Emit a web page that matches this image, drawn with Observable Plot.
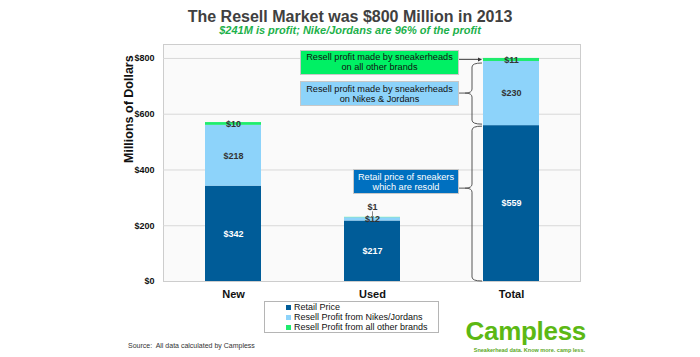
<!DOCTYPE html>
<html><head><meta charset="utf-8">
<script src="https://cdn.jsdelivr.net/npm/d3@7"></script>
<script src="https://cdn.jsdelivr.net/npm/@observablehq/plot@0.6"></script>
<style>
body{margin:0;background:#fff;}
#wrap{position:relative;width:700px;height:357px;overflow:hidden;font-family:"Liberation Sans",Arial,sans-serif;background:#fff;}
#wrap svg{position:absolute;left:0;top:0;}
.abs{position:absolute;white-space:nowrap;}
.title{left:0;width:700px;text-align:center;top:8.5px;font-size:16px;line-height:16px;font-weight:bold;color:#404040;}
.subtitle{left:0;width:700px;text-align:center;top:25px;font-size:11px;line-height:11px;font-weight:bold;font-style:italic;color:#1db14b;}
.note{box-sizing:border-box;border:1px solid #c8c8c8;font-size:9.2px;line-height:10px;text-align:center;display:flex;align-items:center;justify-content:center;white-space:normal;}
.legend{left:264px;top:301px;width:175px;height:32px;box-sizing:border-box;border:1px solid #b5b5b5;background:#fff;padding:0 0 0 21px;}
.legend .row{height:10px;font-size:9px;line-height:10px;color:#111;display:flex;align-items:center;}
.legend .sw{width:5px;height:5px;margin-right:3px;display:inline-block;}
.source{left:128px;top:342px;font-size:7px;line-height:8px;color:#333;}
.logo{right:114px;top:318px;font-size:26px;line-height:26px;font-weight:bold;color:#5cb814;letter-spacing:-0.3px;}
.tag{right:115px;top:347px;font-size:5.5px;line-height:6px;font-weight:bold;color:#5ca81e;}
</style></head><body><div id="wrap"></div><script>
const categories = ["New", "Used", "Total"];
const seriesNames = ["Retail Price", "Resell Profit from Nikes/Jordans", "Resell Profit from all other brands"];
const retailPrice = [342, 217, 559];
const nikeJordanProfit = [218, 12, 230];
const otherBrandProfit = [10, 1, 11];
const seriesColors = ["#005c98", "#8dd3fa", "#1fec6d"];
const yTicks = [0, 200, 400, 600, 800];
const noteTexts = [
  "Resell profit made by sneakerheads on all other brands",
  "Resell profit made by sneakerheads on Nikes & Jordans",
  "Retail price of sneakers which are resold"
];
const noteColors = ["#00f064", "#8dd3fa", "#0070c0"];

const seriesValues = [retailPrice, nikeJordanProfit, otherBrandProfit];
const rows = [];
categories.forEach((cat, i) => {
  let cum = 0;
  seriesNames.forEach((s, j) => {
    const v = seriesValues[j][i];
    rows.push({cat, series: s, value: v, y1: cum, y2: cum + v});
    cum += v;
  });
});
const mid = d => (d.y1 + d.y2) / 2;
const fmt = d => "$" + d.value;
const small = rows.filter(d => d.value < 5);

const plot = Plot.plot({
  width: 700, height: 357,
  marginTop: 44, marginRight: 120, marginBottom: 76, marginLeft: 163,
  style: {fontFamily: '"Liberation Sans", Arial, sans-serif', fontSize: "9px", background: "transparent", overflow: "visible"},
  x: {domain: categories, paddingInner: 0.6, paddingOuter: 0.3, label: null},
  y: {domain: [0, 850], label: null},
  color: {domain: seriesNames, range: seriesColors},
  marks: [
    Plot.frame({fill: "#fafafa", stroke: "#cdcdcd"}),
    Plot.gridY(yTicks.slice(1), {stroke: "#d8d8d8", strokeOpacity: 1}),
    Plot.axisY(yTicks, {tickSize: 0, tickPadding: 9, tickFormat: d => "$" + d, fontWeight: "bold", fontSize: 9, fill: "#111"}),
    Plot.axisX({tickSize: 0, tickPadding: 9, fontWeight: "bold", fontSize: 11, fill: "#111"}),
    Plot.barY(rows, {x: "cat", y1: "y1", y2: "y2", fill: "series"}),
    Plot.text(rows.filter(d => d.series === seriesNames[0]), {x: "cat", y: mid, text: fmt, fill: "white", fontWeight: "bold", fontSize: 9}),
    Plot.text(rows.filter(d => d.series !== seriesNames[0] && d.value >= 5), {x: "cat", y: mid, text: fmt, fill: "#333", fontWeight: "bold", fontSize: 9}),
    Plot.ruleX(small, {x: "cat", y1: "y2", y2: d => d.y2 + 20, stroke: "#888"}),
    Plot.text(small, {x: "cat", y: "y2", dy: -10, text: fmt, fill: "#333", fontWeight: "bold", fontSize: 9}),
    Plot.text(["Millions of Dollars"], {frameAnchor: "left", dx: -35, rotate: -90, text: d => d, fontWeight: "bold", fontSize: 12.5, fill: "#111"})
  ]
});

const wrap = document.getElementById("wrap");
wrap.appendChild(plot);

const add = (cls, html, style) => {
  const el = document.createElement("div");
  el.className = "abs " + cls;
  el.innerHTML = html;
  if (style) Object.assign(el.style, style);
  wrap.appendChild(el);
  return el;
};
add("title", "The Resell Market was $800 Million in 2013");
add("subtitle", "$241M is profit; Nike/Jordans are 96% of the profit");

// annotations, positioned from the scales
const xs = plot.scale("x"), ys = plot.scale("y");
const barLeft = xs.apply("Total");
const boxRight = barLeft - 24;
const totals = rows.filter(d => d.cat === "Total");
const yRetailTop = ys.apply(totals[0].y2);
const yNikeTop = ys.apply(totals[1].y2);
const yAll = ys.apply(totals[2].y2);
const yGreenMid = ys.apply(mid(totals[2]));
const yZero = ys.apply(0);

const boxes = [
  {top: yAll - 8, w: 159, h: 25, tip: yGreenMid, color: "#111"},
  {top: yNikeTop + 20, w: 159, h: 25, tip: (yNikeTop + yRetailTop) / 2, color: "#111"},
  {top: yRetailTop + 44, w: 106, h: 25, tip: yRetailTop + 63, color: "#fff"}
];
boxes.forEach((b, i) => {
  add("note", noteTexts[i], {left: (boxRight - b.w) + "px", top: b.top + "px", width: b.w + "px", height: b.h + "px", background: noteColors[i], color: b.color});
});

const g = d3.select(plot).append("g").attr("fill", "none").attr("stroke", "#555").attr("stroke-width", 1);
g.append("line").attr("x1", boxRight).attr("x2", barLeft - 4).attr("y1", boxes[0].tip).attr("y2", boxes[0].tip);
g.append("path").attr("d", `M${barLeft - 1},${boxes[0].tip} L${barLeft - 5},${boxes[0].tip - 2} L${barLeft - 5},${boxes[0].tip + 2} Z`).attr("fill", "#333").attr("stroke", "none");
function brace(y1, y2, ym) {
  const sx = barLeft - 11, ex = barLeft - 1, tx = barLeft - 18, r = 4;
  return `M${ex},${y1} Q${sx},${y1} ${sx},${y1 + r} L${sx},${ym - r} Q${sx},${ym} ${tx},${ym} Q${sx},${ym} ${sx},${ym + r} L${sx},${y2 - r} Q${sx},${y2} ${ex},${y2}`;
}
g.append("path").attr("d", brace(yNikeTop + 2, yRetailTop - 1, boxes[1].tip));
g.append("path").attr("d", brace(yRetailTop + 1, yZero, boxes[2].tip));
g.append("line").attr("x1", boxRight).attr("x2", barLeft - 18).attr("y1", boxes[1].tip).attr("y2", boxes[1].tip);
g.append("line").attr("x1", boxRight).attr("x2", barLeft - 18).attr("y1", boxes[2].tip).attr("y2", boxes[2].tip);

// legend
const leg = add("legend", "");
seriesNames.forEach((s, i) => {
  const r = document.createElement("div");
  r.className = "row";
  r.innerHTML = `<span class="sw" style="background:${seriesColors[i]}"></span>${s}`;
  leg.appendChild(r);
});

add("source", "Source:&nbsp; All data calculated by Campless");
add("logo", "Campless");
add("tag", "Sneakerhead data. Know more. camp less.");
</script></body></html>
